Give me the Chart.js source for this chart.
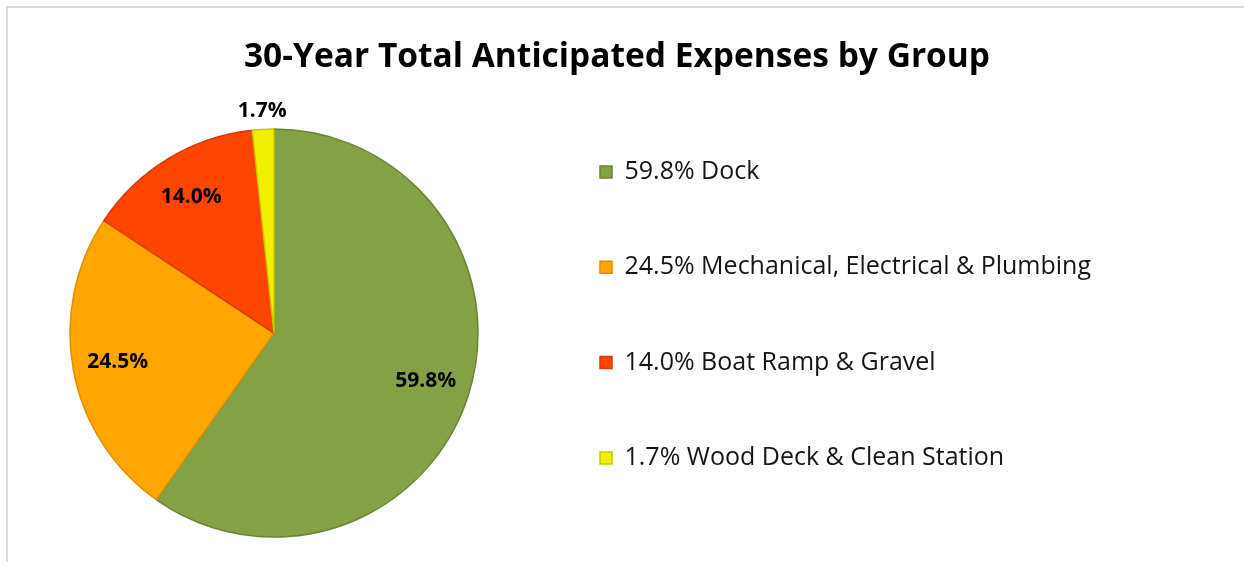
<!DOCTYPE html>
<html>
<head>
<meta charset="utf-8">
<script src="https://cdn.jsdelivr.net/npm/chart.js@4/dist/chart.umd.min.js"></script>
<style>
  html, body { margin: 0; padding: 0; background: #ffffff; overflow: hidden; width: 1244px; height: 562px; }
  #frame { position: absolute; left: 6px; top: 6px; width: 1300px; height: 600px;
           border-top: 2px solid #d9d9d9; border-left: 2px solid #d9d9d9; }
  #c { position: absolute; left: 0; top: 0; }
</style>
</head>
<body>
<div id="frame"></div>
<canvas id="c" width="1234" height="577"></canvas>
<script>
// ---- data ----
const chartTitle = "30-Year Total Anticipated Expenses by Group";
const categories = ["Dock", "Mechanical, Electrical & Plumbing", "Boat Ramp & Gravel", "Wood Deck & Clean Station"];
const shares = [59.8, 24.5, 14.0, 1.7];
const fillColors = ["#84a245", "#ffa500", "#ff4500", "#f0f000"];
const edgeColors = ["#6a8534", "#e08f00", "#d83b00", "#c8c800"];

const pctText = v => v.toFixed(1) + "%";
const legendTexts = shares.map((v, i) => pctText(v) + " " + categories[i]);

// ---- layout constants ----
const CANVAS_W = 1234;
const LEGEND_FONT = { family: "'Open Sans', sans-serif", size: 25 };
const LEGEND_PAD = 70.3;
const BOX = 12;
const LEGEND_LEFT = 529.7;  // where chart area ends and legend begins
const PAD_LEFT = 18.3;

// measure legend text so the legend box ends where we want it
const mctx = document.createElement("canvas").getContext("2d");
mctx.font = LEGEND_FONT.size + "px " + LEGEND_FONT.family;
const maxTextW = Math.max(...legendTexts.map(t => mctx.measureText(t).width));
const legendW = LEGEND_PAD + BOX + LEGEND_FONT.size / 2 + maxTextW + 10; // Chart.js adds 10 to vertical legends
const PAD_RIGHT = Math.max(0, CANVAS_W - LEGEND_LEFT - legendW);

// Data labels drawn at each arc's own geometry
const sliceLabels = {
  id: "sliceLabels",
  afterDatasetsDraw(chart) {
    const meta = chart.getDatasetMeta(0);
    const ctx = chart.ctx;
    ctx.save();
    ctx.font = "bold 21px 'Open Sans', sans-serif";
    ctx.fillStyle = "#000000";
    ctx.textAlign = "center";
    ctx.textBaseline = "middle";
    meta.data.forEach((arc, i) => {
      const p = arc.getProps(["x", "y", "startAngle", "endAngle", "outerRadius"], true);
      const mid = (p.startAngle + p.endAngle) / 2;
      const v = shares[i];
      const r = v < 5 ? p.outerRadius + 18 : p.outerRadius * 0.78;
      ctx.fillText(pctText(v), p.x + Math.cos(mid) * r, p.y + Math.sin(mid) * r);
    });
    ctx.restore();
  }
};

// Center the title over the whole canvas (padding shrinks its box otherwise)
const fullWidthTitle = {
  id: "fullWidthTitle",
  afterLayout(chart) {
    const t = chart.titleBlock;
    if (t) { t.left = 0; t.right = chart.width; t.width = chart.width; }
  }
};

new Chart(document.getElementById("c"), {
  type: "pie",
  data: {
    labels: categories,
    datasets: [{
      data: shares,
      backgroundColor: fillColors,
      borderColor: edgeColors,
      borderWidth: 1.5,
      radius: 204
    }]
  },
  options: {
    responsive: false,
    animation: false,
    layout: { padding: { left: PAD_LEFT, right: PAD_RIGHT, top: 0, bottom: 0 } },
    plugins: {
      title: {
        display: true,
        text: chartTitle,
        color: "#000000",
        font: { family: "'Open Sans', sans-serif", size: 33.5, weight: "bold", lineHeight: 1.2 },
        padding: { top: 36.9, bottom: 12.1 }
      },
      legend: {
        position: "right",
        align: "start",
        fullSize: false,
        maxWidth: 900,
        labels: {
          color: "#151515",
          font: LEGEND_FONT,
          boxWidth: BOX,
          boxHeight: BOX,
          padding: LEGEND_PAD,
          generateLabels(chart) {
            const base = Chart.overrides.pie.plugins.legend.labels.generateLabels(chart);
            return base.map((item, i) => Object.assign(item, { text: legendTexts[i] }));
          }
        }
      },
      tooltip: { enabled: false }
    }
  },
  plugins: [sliceLabels, fullWidthTitle]
});
</script>
</body>
</html>
